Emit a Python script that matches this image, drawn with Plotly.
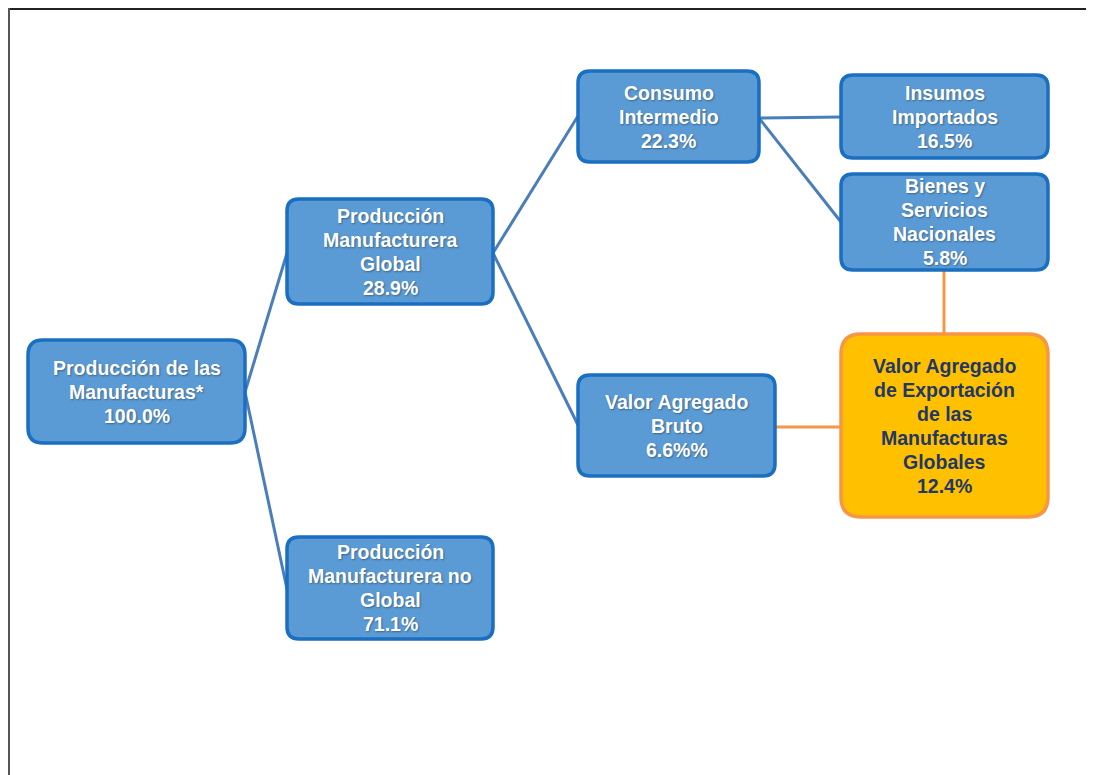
import plotly.graph_objects as go

# ---- data ----
node_labels = [
    "Producción de las<br>Manufacturas*",
    "Producción<br>Manufacturera<br>Global",
    "Producción<br>Manufacturera no<br>Global",
    "Consumo<br>Intermedio",
    "Valor Agregado<br>Bruto",
    "Insumos<br>Importados",
    "Bienes y<br>Servicios<br>Nacionales",
    "Valor Agregado<br>de Exportación<br>de las<br>Manufacturas<br>Globales",
]
node_values = ["100.0%", "28.9%", "71.1%", "22.3%", "6.6%%", "16.5%", "5.8%", "12.4%"]

# ---- layout (screen-pixel boxes: x0, x1, y0, y1) ----
boxes = [
    (28, 245, 340, 443),
    (287, 493, 199, 304),
    (287, 493, 537, 639),
    (578, 759, 71, 162),
    (578, 775, 375, 476),
    (841, 1048, 75, 158),
    (841, 1048, 174, 270),
    (841, 1048, 334, 517),
]
radius = [15, 12, 12, 12, 12, 12, 12, 20]
highlight = [False] * 7 + [True]

BLUE_LINE = "#4A7EBB"
ORANGE = "#F79646"
links = [
    (245, 392, 287, 253, BLUE_LINE),
    (245, 392, 287, 589, BLUE_LINE),
    (493, 253, 578, 116, BLUE_LINE),
    (493, 253, 578, 425, BLUE_LINE),
    (759, 118, 841, 117, BLUE_LINE),
    (759, 118, 841, 222, BLUE_LINE),
    (944, 270, 944, 334, ORANGE),
    (775, 427, 841, 427, ORANGE),
]

W, H = 1094, 775
OFF = 8  # page body margin


def rounded(x0, x1, y0, y1, r):
    return (f"M{x0+r},{y0} L{x1-r},{y0} Q{x1},{y0} {x1},{y0+r} "
            f"L{x1},{y1-r} Q{x1},{y1} {x1-r},{y1} L{x0+r},{y1} "
            f"Q{x0},{y1} {x0},{y1-r} L{x0},{y0+r} Q{x0},{y0} {x0+r},{y0} Z")


shapes = []
# frame
shapes.append(dict(type="line", x0=OFF, y0=OFF + 1, x1=W + OFF, y1=OFF + 1,
                   line=dict(color="#222222", width=2)))
shapes.append(dict(type="line", x0=OFF + 1, y0=OFF, x1=OFF + 1, y1=H + OFF,
                   line=dict(color="#555555", width=2)))

for x0, y0, x1, y1, c in links:
    shapes.append(dict(type="line", x0=x0, y0=y0, x1=x1, y1=y1, line=dict(color=c, width=3)))

annotations = []
LINE_H = 24
for i, (b, r) in enumerate(zip(boxes, radius)):
    x0, x1, y0, y1 = b
    if highlight[i]:
        fill, border, tcol, shadow = "#FFC000", ORANGE, "#1F3864", "none"
    else:
        fill, border, tcol, shadow = "#5B9BD5", "#1A6FC0", "white", "1px 1px 2px rgba(0,0,0,0.35)"
    shapes.append(dict(type="path", path=rounded(x0, x1, y0, y1, r),
                       fillcolor=fill, line=dict(color=border, width=3.5)))
    lines = node_labels[i].split("<br>") + [node_values[i]]
    n = len(lines)
    cx, cy = (x0 + x1) / 2, (y0 + y1) / 2
    for k, t in enumerate(lines):
        annotations.append(dict(
            x=cx, y=cy + (k - (n - 1) / 2) * LINE_H, xref="x", yref="y",
            text=t, showarrow=False, xanchor="center", yanchor="middle",
            font=dict(family="Liberation Sans, Arial", size=19.5, color=tcol,
                      weight="bold", shadow=shadow),
        ))

fig = go.Figure()
fig.add_trace(go.Scatter(x=[OFF, W + OFF], y=[OFF, H + OFF], mode="markers",
                         marker=dict(opacity=0), hoverinfo="skip", showlegend=False))
fig.update_layout(
    width=W, height=H, margin=dict(l=0, r=0, t=0, b=0),
    paper_bgcolor="white", plot_bgcolor="white",
    xaxis=dict(range=[OFF, W + OFF], visible=False, fixedrange=True),
    yaxis=dict(range=[H + OFF, OFF], visible=False, fixedrange=True),
    shapes=shapes, annotations=annotations, showlegend=False,
)
fig.write_html("out.html")
